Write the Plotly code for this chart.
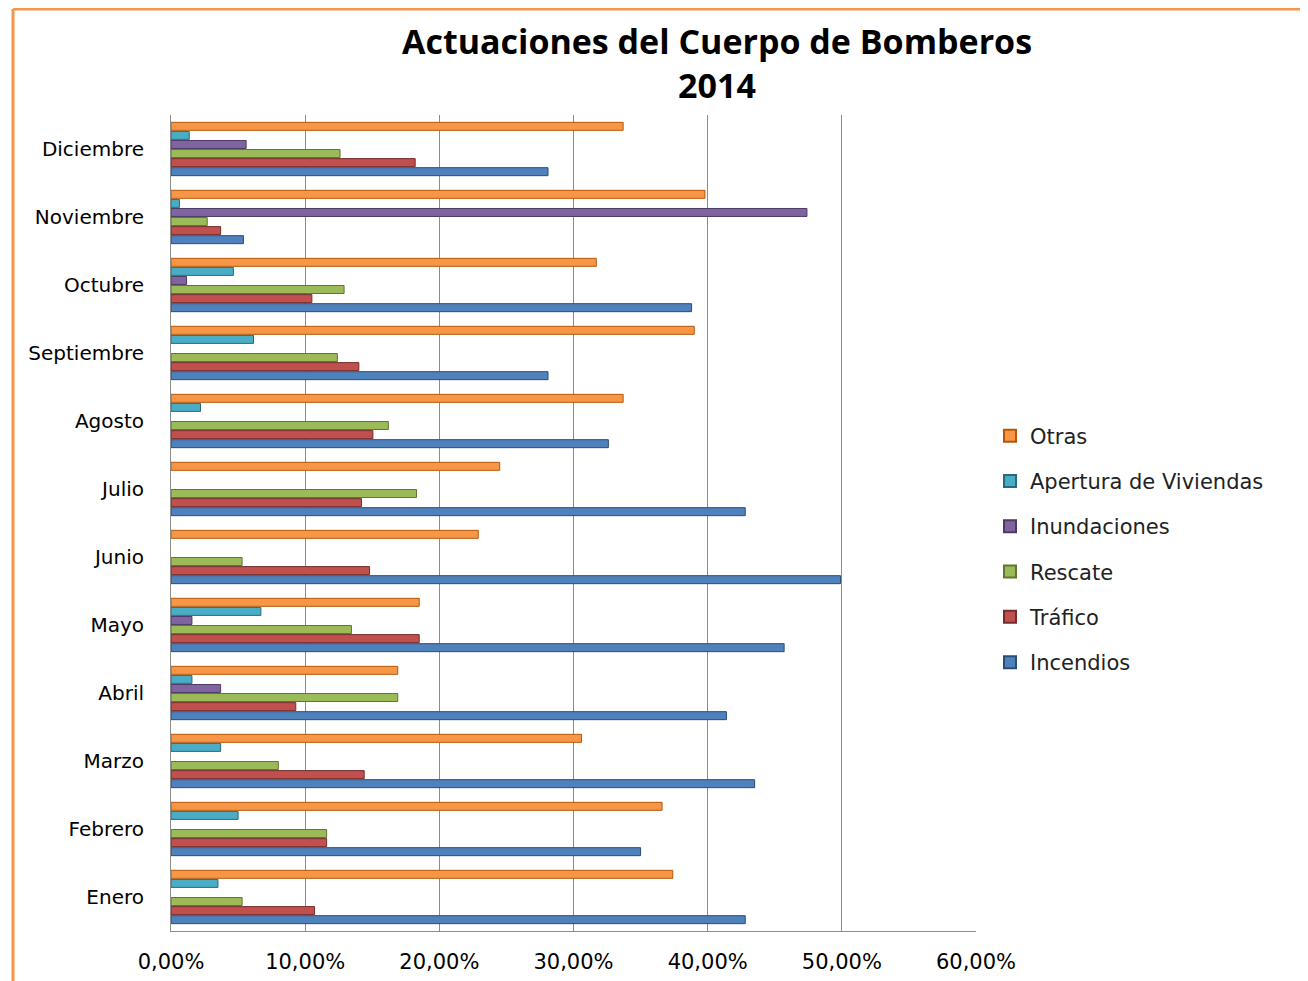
import plotly.graph_objects as go

months = ["Enero", "Febrero", "Marzo", "Abril", "Mayo", "Junio", "Julio",
          "Agosto", "Septiembre", "Octubre", "Noviembre", "Diciembre"]

incendios = [42.8, 35.0, 43.5, 41.4, 45.7, 49.9, 42.8, 32.6, 28.1, 38.8, 5.4, 28.1]
trafico = [10.7, 11.6, 14.4, 9.3, 18.5, 14.8, 14.2, 15.05, 14.0, 10.5, 3.7, 18.2]
rescate = [5.3, 11.6, 8.0, 16.9, 13.45, 5.3, 18.3, 16.2, 12.4, 12.9, 2.7, 12.6]
inundaciones = [0, 0, 0, 3.7, 1.56, 0, 0, 0, 0, 1.16, 47.4, 5.6]
apertura = [3.5, 5.0, 3.7, 1.56, 6.7, 0, 0, 2.2, 6.15, 4.65, 0.63, 1.36]
otras = [37.4, 36.6, 30.6, 16.9, 18.5, 22.9, 24.5, 33.7, 39.0, 31.7, 39.8, 33.7]

tick_vals = [0, 10, 20, 30, 40, 50, 60]
tick_text = ["0,00%", "10,00%", "20,00%", "30,00%", "40,00%", "50,00%", "60,00%"]

series = [
    ("Incendios", incendios, "#4F81BD", "#2C4D75"),
    ("Tráfico", trafico, "#C0504D", "#772C2A"),
    ("Rescate", rescate, "#9BBB59", "#5F7530"),
    ("Inundaciones", inundaciones, "#8064A2", "#4D3B62"),
    ("Apertura de Viviendas", apertura, "#4BACC6", "#276A7C"),
    ("Otras", otras, "#F79646", "#B65708"),
]

fig = go.Figure()
for i, (name, vals, col, edge) in enumerate(series):
    fig.add_trace(go.Bar(
        y=months, x=[v if v else None for v in vals], name=name,
        orientation="h", legendgroup=name, legendrank=len(series) - i,
        marker=dict(color=col, line=dict(color=edge, width=1)),
    ))

body = "DejaVu Sans, Verdana, sans-serif"
title_font = "Open Sans, Noto Sans, sans-serif"

# page body has an 8px default margin -> compensate
OFF = 8
L, R_EDGE, T, B_EDGE = 171, 976, 115, 931
W, H = 1308, 981
PW, PH = R_EDGE - L, B_EDGE - T


def px(x):
    return (x - L) / PW


def py(y):
    return (B_EDGE - y) / PH


fig.update_layout(
    width=W, height=H,
    margin=dict(l=L - OFF, r=W - R_EDGE + OFF, t=T - OFF, b=H - B_EDGE + OFF,
                autoexpand=False),
    paper_bgcolor="white", plot_bgcolor="white",
    barmode="group", bargap=0.2, bargroupgap=0.12,
    font=dict(family=body, color="black"),
    title=dict(
        text="<b>Actuaciones del Cuerpo de Bomberos<br>2014</b>",
        x=px(717), xref="paper", xanchor="center",
        y=1 - (54 - OFF) / H, yref="container", yanchor="middle",
        font=dict(size=34, family=title_font, color="black"),
    ),
    legend=dict(
        traceorder="grouped",
        x=px(990), xanchor="left", y=py(549), yanchor="middle",
        font=dict(size=21, family=body, color="#222"),
        tracegroupgap=15, itemsizing="constant",
    ),
    xaxis=dict(
        range=[0, 60], tickvals=tick_vals, ticktext=tick_text,
        showgrid=True, gridcolor="#8C8C8C", gridwidth=1,
        zeroline=False, showline=True, linecolor="#8C8C8C", linewidth=1,
        ticks="outside", ticklen=12, tickcolor="rgba(0,0,0,0)",
        tickfont=dict(size=21, family=body, color="black"),
        automargin=False, fixedrange=True,
    ),
    yaxis=dict(
        showgrid=False, showline=True, linecolor="#8C8C8C", linewidth=1,
        ticks="outside", ticklen=22, tickcolor="rgba(0,0,0,0)",
        tickfont=dict(size=20, family=body, color="black"),
        automargin=False, fixedrange=True,
    ),
    shapes=[
        dict(type="line", xref="paper", yref="paper",
             x0=px(13), x1=px(1330), y0=py(9), y1=py(9),
             line=dict(color="#F79646", width=3)),
        dict(type="line", xref="paper", yref="paper",
             x0=px(13), x1=px(13), y0=py(9), y1=py(1000),
             line=dict(color="#F79646", width=3)),
    ],
)

fig.write_html("out.html")
